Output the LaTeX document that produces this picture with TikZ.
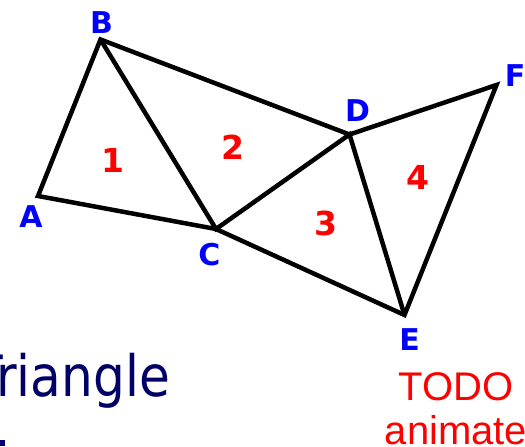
\documentclass[tikz,border=0pt]{standalone}
\usepackage{fontspec}
\usepackage{tikz}
\usetikzlibrary{calc, positioning}
\setmainfont{DejaVu Sans}
\newfontfamily\titlefont[FakeStretch=0.88]{DejaVu Sans}
\newfontfamily\notefont{Liberation Sans}
\definecolor{vertexBlue}{HTML}{0000FF}
\definecolor{faceRed}{HTML}{FF0000}
\definecolor{titleNavy}{HTML}{000066}
\tikzset{
  edge/.style  = {draw=black, line width=4.5pt, miter limit=4},
  vlbl/.style  = {text=vertexBlue, font=\fontsize{30}{32}\selectfont\bfseries, inner sep=0pt},
  fnum/.style  = {text=faceRed, font=\fontsize{33}{35}\selectfont\bfseries, inner sep=0pt},
  title/.style = {text=titleNavy, font=\titlefont\fontsize{57}{60}\selectfont, inner sep=0pt},
  todo/.style  = {text=faceRed, font=\notefont\fontsize{40}{44}\selectfont, align=center, inner sep=0pt}
}
\begin{document}
\begin{tikzpicture}[x=1pt, y=-1pt]
  \useasboundingbox (0,0) rectangle (525,447);

  % mesh vertices
  \coordinate (a) at (38,196);
  \coordinate (b) at (100.5,39.5);
  \coordinate (c) at (216,229);
  \coordinate (d) at (349.5,134.5);
  \coordinate (e) at (404.5,315);
  \coordinate (f) at (496.5,85);

  \draw[edge] (a) -- (b) -- (d) -- (f) -- (e) -- (c) -- cycle;
  \draw[edge] (b) -- (c) -- (d) -- (e);

  \node[vlbl] (la) at (31,217) {A};
  \node[vlbl] (lb) at (101.5,23) {B};
  \node[vlbl] (lc) at (209.5,255) {C};
  \node[vlbl] (ld) at (357.5,110.5) {D};
  \node[vlbl] (le) at (409.5,339.5) {E};
  \node[vlbl] (lf) at (515,76) {F};

  \node[fnum] (t1) at (113,160) {1};
  \node[fnum] (t2) at (232.5,147) {2};
  \node[fnum] (t3) at (325.5,223) {3};
  \node[fnum] (t4) at (417.5,177) {4};

  \node[title, anchor=base east] (ttl) at (170,396) {Triangle};
  \node[draw=none, fill=titleNavy, minimum width=5pt, minimum height=6pt, inner sep=0pt, anchor=north west] (tl2) at (0,440) {};

  \node[todo, anchor=base] (td) at (456,444) {TODO\\animate};
\end{tikzpicture}
\end{document}
